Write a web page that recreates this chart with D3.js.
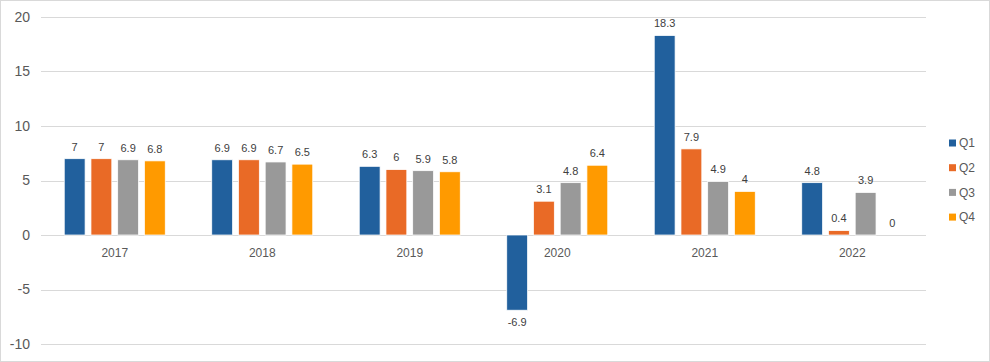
<!DOCTYPE html>
<html>
<head>
<meta charset="utf-8">
<script src="https://cdn.jsdelivr.net/npm/d3@7"></script>
<style>
    body { margin: 0; background: #fff; }
    svg { display: block; font-family: "Liberation Sans", Arial, sans-serif; }
</style>
</head>
<body>
<svg id="chart"></svg>
<script>
let years = ["2017", "2018", "2019", "2020", "2021", "2022"];
let quarters = ["Q1", "Q2", "Q3", "Q4"];
let q1 = [7, 6.9, 6.3, -6.9, 18.3, 4.8];
let q2 = [7, 6.9, 6, 3.1, 7.9, 0.4];
let q3 = [6.9, 6.7, 5.9, 4.8, 4.9, 3.9];
let q4 = [6.8, 6.5, 5.8, 6.4, 4, 0];
let yTicks = [-10, -5, 0, 5, 10, 15, 20];
let colors = ["#21609D", "#E96A26", "#999999", "#FF9A00"];

function init() {
    let width = 990,
        height = 362,
        svg = d3.select('#chart').attr("width", width).attr("height", height);

    let series = [q1, q2, q3, q4];
    let rows = [];
    years.forEach((y, i) => {
        quarters.forEach((q, j) => rows.push({ year: y, q: q, value: series[j][i], color: colors[j] }));
    });

    // outer border
    svg.append('rect')
        .attr('x', 0.5).attr('y', 0.5)
        .attr('width', width - 1).attr('height', height - 1)
        .attr('fill', 'white')
        .attr('stroke', '#d9d9d9')
        .attr('stroke-width', 1);

    let x0 = d3.scaleBand().domain(years).range([41, 926]);
    let x1 = d3.scaleBand().domain(quarters).range([0, x0.bandwidth()])
        .paddingInner(0.22).paddingOuter(0.87);
    let yScale = d3.scaleLinear().domain([-10, 20]).range([344, 17]);

    // gridlines
    svg.selectAll('line.grid')
        .data(yTicks)
        .enter()
        .append('line')
        .attr('class', 'grid')
        .attr('x1', 41).attr('x2', 926)
        .attr('y1', d => Math.round(yScale(d)) + 0.5)
        .attr('y2', d => Math.round(yScale(d)) + 0.5)
        .attr('stroke', '#d9d9d9')
        .attr('stroke-width', 1);

    // y tick labels
    svg.selectAll('text.ytick')
        .data(yTicks)
        .enter()
        .append('text')
        .attr('class', 'ytick')
        .attr('x', 30)
        .attr('y', d => yScale(d))
        .attr('dy', '0.35em')
        .attr('text-anchor', 'end')
        .attr('fill', '#595959')
        .attr('font-size', '14px')
        .text(d => d);

    // bars
    svg.selectAll('rect.bar')
        .data(rows)
        .enter()
        .append('rect')
        .attr('class', 'bar')
        .attr('x', d => x0(d.year) + x1(d.q))
        .attr('width', x1.bandwidth())
        .attr('y', d => yScale(Math.max(0, d.value)))
        .attr('height', d => Math.abs(yScale(d.value) - yScale(0)))
        .attr('fill', d => d.color)
        .attr('stroke', 'white')
        .attr('stroke-width', 0.75);

    // value labels
    svg.selectAll('text.val')
        .data(rows)
        .enter()
        .append('text')
        .attr('class', 'val')
        .attr('x', d => x0(d.year) + x1(d.q) + x1.bandwidth() / 2)
        .attr('y', d => d.value < 0 ? yScale(d.value) + 12 : yScale(d.value) - 12)
        .attr('dy', '0.35em')
        .attr('text-anchor', 'middle')
        .attr('fill', '#404040')
        .attr('font-size', '11px')
        .text(d => d.value);

    // year labels
    svg.selectAll('text.year')
        .data(years)
        .enter()
        .append('text')
        .attr('class', 'year')
        .attr('x', d => x0(d) + x0.bandwidth() / 2)
        .attr('y', 253)
        .attr('dy', '0.35em')
        .attr('text-anchor', 'middle')
        .attr('fill', '#595959')
        .attr('font-size', '12px')
        .text(d => d);

    // legend
    let legend = svg.selectAll('g.legend')
        .data(quarters)
        .enter()
        .append('g')
        .attr('class', 'legend')
        .attr('transform', (d, i) => `translate(949, ${143 + i * 24.7})`);

    legend.append('rect')
        .attr('x', 0).attr('y', -3.5)
        .attr('width', 7).attr('height', 7)
        .attr('fill', (d, i) => colors[i]);

    legend.append('text')
        .attr('x', 10)
        .attr('y', 0)
        .attr('dy', '0.35em')
        .attr('fill', '#595959')
        .attr('font-size', '12px')
        .text(d => d);
}

onload = function () {
    init();
}
</script>
</body>
</html>
